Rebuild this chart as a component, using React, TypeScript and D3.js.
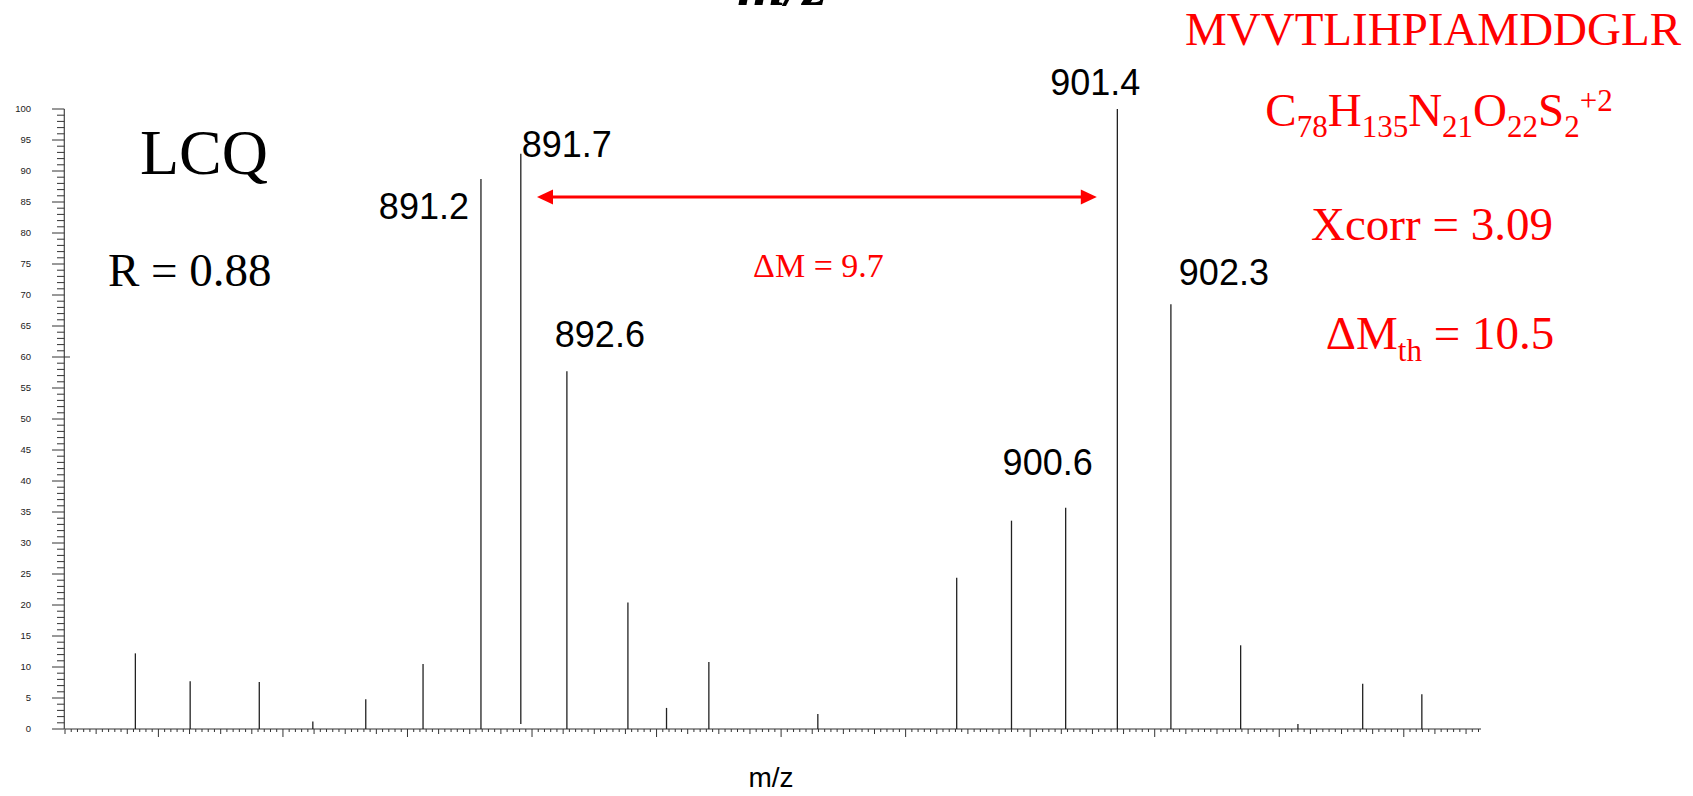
import React from "react";
import * as d3 from "d3";

// ---- data ----
const peakMz = [885.63, 886.51, 887.62, 888.48, 889.33, 890.25, 891.18, 891.82, 892.56, 893.54, 894.16, 894.84, 896.59, 898.82, 899.7, 900.57, 901.4, 902.26, 903.38, 904.3, 905.34, 906.29];
const peakIntensity = [12.2, 7.7, 7.6, 1.2, 4.8, 10.5, 88.7, 92.8, 57.7, 20.4, 3.4, 10.8, 2.4, 24.4, 33.6, 35.7, 100, 68.5, 13.5, 0.8, 7.3, 5.6];
const peakBase = [0, 0, 0, 0, 0, 0, 0, 0.8, 0, 0, 0, 0, 0, 0, 0, 0, 0, 0, 0, 0, 0, 0];

const labelText = ["891.2", "891.7", "892.6", "900.6", "901.4", "902.3"];
const labelMz = [891.18, 891.82, 892.56, 900.57, 901.4, 902.26];
const labelIntensity = [88.7, 92.8, 57.7, 35.7, 100, 68.5];

const xDomain = [884.5, 907.24];
const yDomain = [0, 100];
const yTickValues = d3.range(0, 101, 1);

const arrowMz = [892.08, 901.07];
const deltaLabelMz = 896.6;

// ---- layout ----
const W = 1693;
const H = 796;
const SANS = "'Liberation Sans', Arial, Helvetica, sans-serif";
const SERIF = "'Liberation Serif', 'Times New Roman', Times, serif";
const RED = "#ff0000";

const labelLayout = [
  { anchor: "end", dx: -12, dy: 40 },
  { anchor: "start", dx: 1, dy: 3 },
  { anchor: "middle", dx: 33, dy: -24 },
  { anchor: "middle", dx: -18, dy: -33 },
  { anchor: "middle", dx: -22, dy: -14 },
  { anchor: "middle", dx: 53, dy: -19 },
];

export default function App() {
  const x = d3.scaleLinear().domain(xDomain).range([65, 1481]);
  const y = d3.scaleLinear().domain(yDomain).range([729, 109]);
  const y0 = y(0);
  const axisX = 64.3;

  const xTickIdx = d3.range(Math.round(xDomain[0] * 10), Math.floor(xDomain[1] * 10) + 1);

  const arrowY = 197;
  const ax1 = x(arrowMz[0]);
  const ax2 = x(arrowMz[1]);
  const headL = 16;
  const headH = 7.5;

  return (
    <svg
      width={W}
      height={H}
      style={{ position: "absolute", left: 0, top: 0, background: "#fff" }}
    >
      <rect x={0} y={0} width={W} height={H} fill="#fff" />

      {/* clipped top title */}
      <text
        x={782}
        y={5}
        textAnchor="middle"
        fontFamily={SERIF}
        fontSize={62}
        fontStyle="italic"
        fontWeight="bold"
        fill="#000"
      >
        m/z
      </text>

      {/* y axis */}
      <line x1={axisX} x2={axisX} y1={y(100)} y2={y0} stroke="#444" strokeWidth={1.2} />
      {yTickValues.map((v) => {
        const major = v % 5 === 0;
        return (
          <g key={"yt" + v}>
            <line
              x1={major ? 52 : 57}
              x2={v === 60 ? 70 : axisX}
              y1={y(v)}
              y2={y(v)}
              stroke="#333"
              strokeWidth={1}
            />
            {major && (
              <text
                x={31}
                y={y(v) + 3.3}
                textAnchor="end"
                fontFamily={SANS}
                fontSize={9.5}
                fill="#222"
              >
                {v}
              </text>
            )}
          </g>
        );
      })}

      {/* x axis */}
      <line x1={x(xDomain[0])} x2={x(xDomain[1])} y1={y0} y2={y0} stroke="#333" strokeWidth={1.2} />
      {xTickIdx.map((i) => {
        const len = i % 20 === 0 ? 8 : i % 5 === 0 ? 5 : 3;
        const xv = x(i / 10);
        return (
          <line key={"xt" + i} x1={xv} x2={xv} y1={y0} y2={y0 + len} stroke="#333" strokeWidth={1} />
        );
      })}

      {/* peaks */}
      {peakMz.map((m, i) => (
        <line
          key={"pk" + i}
          x1={x(m)}
          x2={x(m)}
          y1={y(peakBase[i])}
          y2={y(peakIntensity[i])}
          stroke="#222"
          strokeWidth={1.3}
        />
      ))}

      {/* peak labels */}
      {labelText.map((t, i) => (
        <text
          key={"lb" + i}
          x={x(labelMz[i]) + labelLayout[i].dx}
          y={y(labelIntensity[i]) + labelLayout[i].dy}
          textAnchor={labelLayout[i].anchor}
          fontFamily={SANS}
          fontSize={36}
          fill="#000"
        >
          {t}
        </text>
      ))}

      {/* LCQ and R */}
      <text x={140} y={174} fontFamily={SERIF} fontSize={64} fill="#000">
        LCQ
      </text>
      <text x={108} y={286} fontFamily={SERIF} fontSize={47} fill="#000">
        R = 0.88
      </text>

      {/* delta M arrow */}
      <line x1={ax1 + headL - 2} x2={ax2 - headL + 2} y1={arrowY} y2={arrowY} stroke={RED} strokeWidth={3} />
      <path
        d={`M${ax1},${arrowY} L${ax1 + headL},${arrowY - headH} L${ax1 + headL},${arrowY + headH} Z`}
        fill={RED}
      />
      <path
        d={`M${ax2},${arrowY} L${ax2 - headL},${arrowY - headH} L${ax2 - headL},${arrowY + headH} Z`}
        fill={RED}
      />
      <text x={x(deltaLabelMz)} y={277} textAnchor="middle" fontFamily={SERIF} fontSize={34} fill={RED}>
        ΔM = 9.7
      </text>

      {/* right red block */}
      <text x={1433} y={45} textAnchor="middle" fontFamily={SERIF} fontSize={47} fill={RED}>
        MVVTLIHPIAMDDGLR
      </text>
      <text x={1439} y={126} textAnchor="middle" fontFamily={SERIF} fontSize={47} fill={RED}>
        <tspan>C</tspan>
        <tspan fontSize={31} dy={11}>78</tspan>
        <tspan dy={-11}>H</tspan>
        <tspan fontSize={31} dy={11}>135</tspan>
        <tspan dy={-11}>N</tspan>
        <tspan fontSize={31} dy={11}>21</tspan>
        <tspan dy={-11}>O</tspan>
        <tspan fontSize={31} dy={11}>22</tspan>
        <tspan dy={-11}>S</tspan>
        <tspan fontSize={31} dy={11}>2</tspan>
        <tspan fontSize={31} dy={-26}>+2</tspan>
      </text>
      <text x={1432} y={240} textAnchor="middle" fontFamily={SERIF} fontSize={47} fill={RED}>
        Xcorr = 3.09
      </text>
      <text x={1440} y={349} textAnchor="middle" fontFamily={SERIF} fontSize={47} fill={RED}>
        <tspan>ΔM</tspan>
        <tspan fontSize={31} dy={12}>th</tspan>
        <tspan dy={-12}> = 10.5</tspan>
      </text>

      {/* x axis label */}
      <text x={771} y={787} textAnchor="middle" fontFamily={SANS} fontSize={28} fill="#000">
        m/z
      </text>
    </svg>
  );
}
